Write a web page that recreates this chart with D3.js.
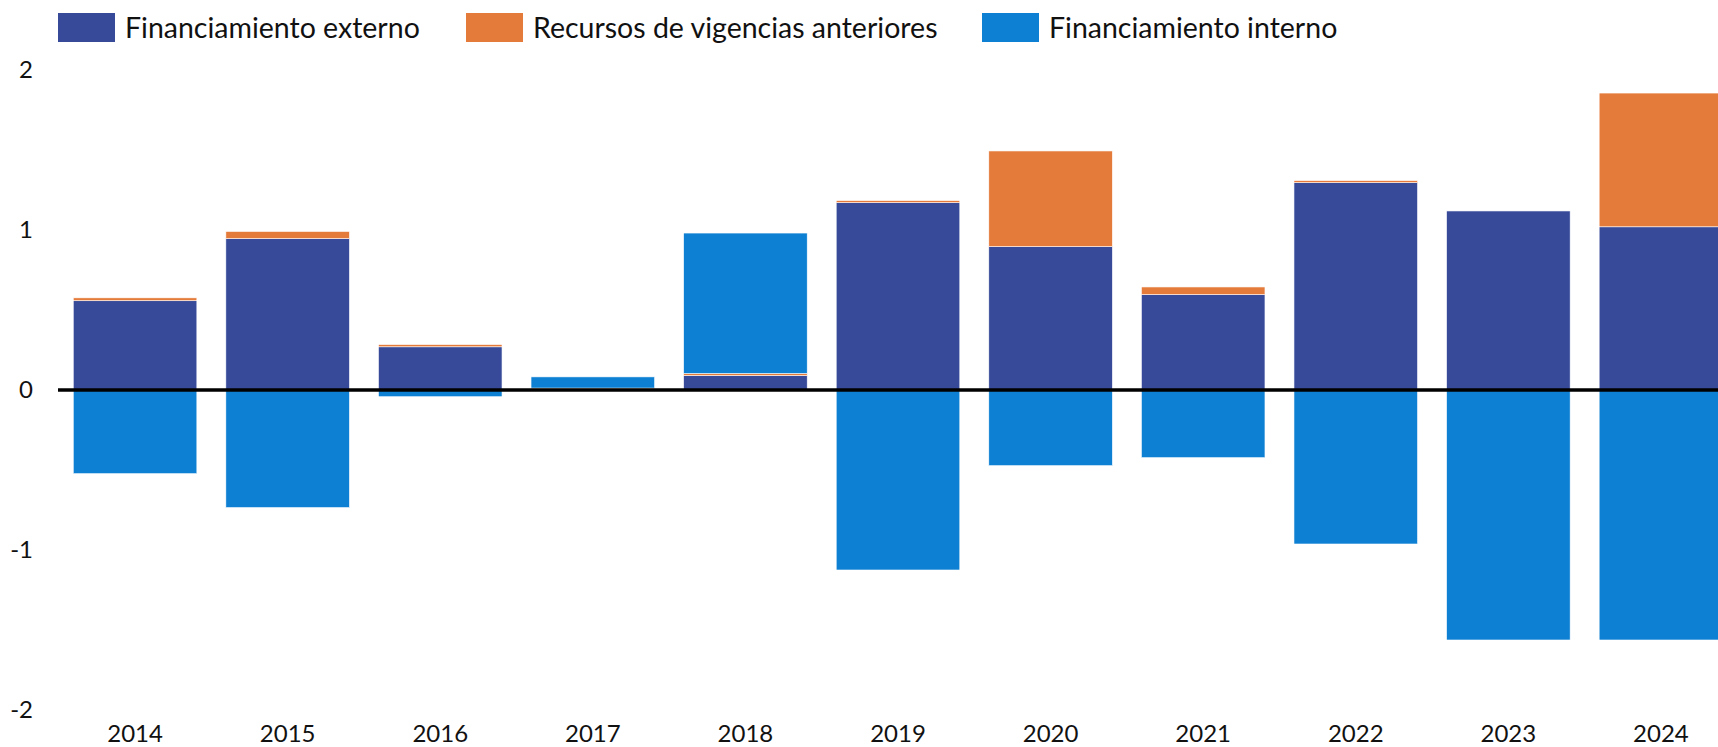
<!DOCTYPE html>
<html>
<head>
<meta charset="utf-8">
<script src="https://cdn.jsdelivr.net/npm/d3@7"></script>
<style>
  body { margin: 0; background: #fff; }
  svg { display: block; font-family: Lato, sans-serif; }
</style>
</head>
<body>
<svg id="chart"></svg>
<script>
const years = ["2014", "2015", "2016", "2017", "2018", "2019", "2020", "2021", "2022", "2023", "2024"];
const externo = [0.558, 0.946, 0.27, 0.0, 0.09, 1.171, 0.896, 0.596, 1.296, 1.119, 1.02];
const vigencias = [0.018, 0.045, 0.014, 0.012, 0.013, 0.013, 0.598, 0.048, 0.013, 0.0, 0.836];
const interno = [-0.523, -0.735, -0.042, 0.07, 0.878, -1.125, -0.473, -0.423, -0.9625, -1.5625, -1.5625];
const yTicks = [-2, -1, 0, 1, 2];

const seriesNames = ["Financiamiento externo", "Recursos de vigencias anteriores", "Financiamiento interno"];
const keys = ["externo", "vigencias", "interno"];
const colors = ["#374a9a", "#e57b3b", "#0d80d3"];

const width = 1718,
  height = 747;

const rows = years.map((y, i) => ({
  year: y,
  externo: externo[i],
  vigencias: vigencias[i],
  interno: interno[i]
}));

const svg = d3.select("#chart").attr("width", width).attr("height", height);

const x = d3
  .scaleBand()
  .domain(years)
  .range([58, 1738])
  .paddingInner(0.19)
  .paddingOuter(0.1);

const y = d3.scaleLinear().domain([-2, 2]).range([710, 70]);

const color = d3.scaleOrdinal().domain(keys).range(colors);

const stacked = d3
  .stack()
  .keys(keys)
  .offset(d3.stackOffsetDiverging)(rows);

svg
  .append("g")
  .selectAll("g")
  .data(stacked)
  .join("g")
  .attr("fill", d => color(d.key))
  .selectAll("rect")
  .data(d => d)
  .join("rect")
  .attr("x", d => x(d.data.year))
  .attr("width", x.bandwidth())
  .attr("y", d => y(Math.max(d[0], d[1])))
  .attr("height", d => Math.abs(y(d[0]) - y(d[1])))
  .attr("stroke", "#fff")
  .attr("stroke-width", 0.6);

// zero line
svg
  .append("line")
  .attr("x1", 58)
  .attr("x2", width)
  .attr("y1", y(0))
  .attr("y2", y(0))
  .attr("stroke", "#000")
  .attr("stroke-width", 3.5);

// y axis
const yAxis = svg
  .append("g")
  .attr("transform", "translate(33,0)")
  .call(
    d3
      .axisLeft(y)
      .tickValues(yTicks)
      .tickFormat(d => String(d))
      .tickSize(0)
      .tickPadding(0)
  );
yAxis.select(".domain").remove();
yAxis.selectAll("text").attr("font-size", 24).attr("font-family", "Lato").attr("fill", "#111");

// x axis
const xAxis = svg
  .append("g")
  .attr("transform", "translate(0,709)")
  .call(d3.axisBottom(x).tickSize(0).tickPadding(16));
xAxis.select(".domain").remove();
xAxis.selectAll("text").attr("font-size", 24).attr("font-family", "Lato").attr("fill", "#111");

// legend
const legendX = [58, 466, 982];
const legend = svg
  .append("g")
  .selectAll("g")
  .data(seriesNames)
  .join("g")
  .attr("transform", (d, i) => "translate(" + legendX[i] + ",13)");

legend
  .append("rect")
  .attr("width", 57)
  .attr("height", 29)
  .attr("fill", (d, i) => colors[i]);

legend
  .append("text")
  .attr("x", 67)
  .attr("y", 25)
  .attr("font-size", 28.5)
  .attr("fill", "#111")
  .text(d => d);
</script>
</body>
</html>
